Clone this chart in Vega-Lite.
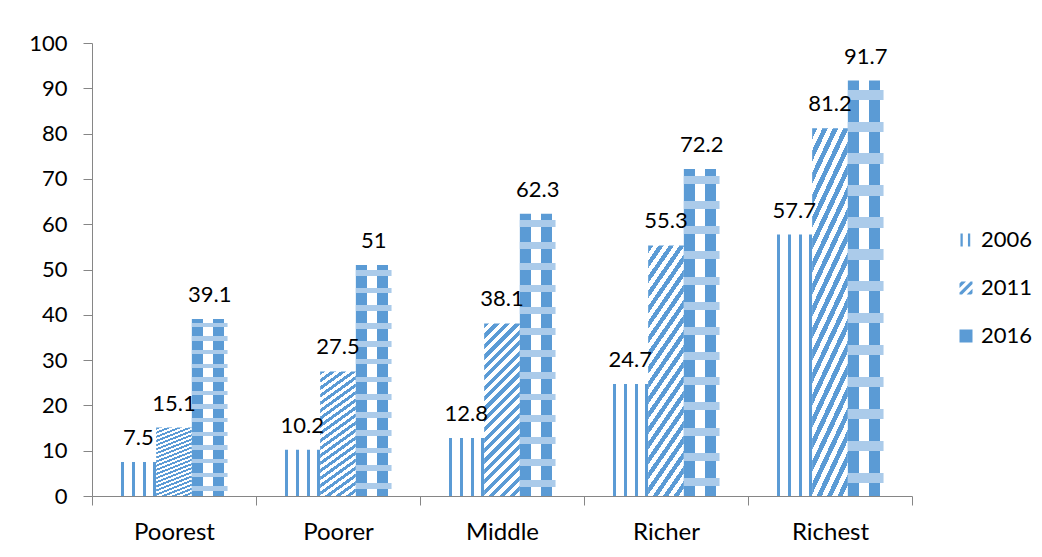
{
  "$schema": "https://vega.github.io/schema/vega-lite/v6.json",
  "width": 820,
  "height": 453,
  "autosize": "none",
  "padding": {"left": 92, "top": 43, "right": 130, "bottom": 61},
  "background": "white",
  "config": {"view": {"stroke": null}, "font": "Lato"},
  "data": {"values": [
    {"g": "Poorest", "year": "2006", "v": 7.5},
    {"g": "Poorest", "year": "2011", "v": 15.1},
    {"g": "Poorest", "year": "2016", "v": 39.1},
    {"g": "Poorer", "year": "2006", "v": 10.2},
    {"g": "Poorer", "year": "2011", "v": 27.5},
    {"g": "Poorer", "year": "2016", "v": 51},
    {"g": "Middle", "year": "2006", "v": 12.8},
    {"g": "Middle", "year": "2011", "v": 38.1},
    {"g": "Middle", "year": "2016", "v": 62.3},
    {"g": "Richer", "year": "2006", "v": 24.7},
    {"g": "Richer", "year": "2011", "v": 55.3},
    {"g": "Richer", "year": "2016", "v": 72.2},
    {"g": "Richest", "year": "2006", "v": 57.7},
    {"g": "Richest", "year": "2011", "v": 81.2},
    {"g": "Richest", "year": "2016", "v": 91.7}
  ]},
  "encoding": {
    "x": {"field": "g", "type": "nominal", "sort": ["Poorest", "Poorer", "Middle", "Richer", "Richest"],
      "scale": {"paddingInner": 0, "paddingOuter": 0},
      "axis": {"title": null, "tickBand": "extent", "labelAngle": 0, "tickSize": 9, "labelPadding": 15, "labelFontSize": 24, "labelFont": "Lato", "labelColor": "#000", "domainColor": "#868686", "tickColor": "#868686"}},
    "xOffset": {"field": "year", "type": "nominal", "scale": {"paddingInner": 0, "paddingOuter": 0.797}},
    "y": {"field": "v", "type": "quantitative", "scale": {"domain": [0, 100], "nice": false},
      "axis": {"title": null, "grid": false, "values": [0, 10, 20, 30, 40, 50, 60, 70, 80, 90, 100], "tickSize": 9, "labelPadding": 16, "labelFontSize": 22, "labelFont": "Lato", "labelColor": "#000", "domainColor": "#868686", "tickColor": "#868686"}}
  },
  "layer": [
    {
      "mark": {"type": "point", "filled": true, "opacity": 0},
      "encoding": {
        "color": {"field": "year", "type": "nominal",
          "scale": {"domain": ["2006", "2011", "2016"], "range": ["#5b9bd5", "#5b9bd5", "#5b9bd5"]},
          "legend": {"orient": "none", "legendX": 863, "legendY": 186, "title": null, "symbolSize": 169, "symbolOpacity": 1, "symbolStrokeWidth": 0, "labelFontSize": 22, "labelFont": "Lato", "labelColor": "#000", "labelOffset": 4, "rowPadding": 26}},
        "shape": {"field": "year", "type": "nominal",
          "scale": {"domain": ["2006", "2011", "2016"], "range": [
            "M-0.85,-1H-0.5V1H-0.85Z M0.3,-1H0.65V1H0.3Z",
            "M-1,-0.7L-0.7,-1L0,-1L-1,0Z M-1,0.7L0.7,-1L1,-1L1,-0.6L-0.6,1L-1,1Z M1,0.1L1,0.8L0.8,1L0.1,1Z",
            "M-1,-1H1V1H-1Z"]},
          "legend": {"orient": "none", "legendX": 863, "legendY": 186, "title": null, "symbolSize": 169, "symbolOpacity": 1, "symbolStrokeWidth": 0, "labelFontSize": 22, "labelFont": "Lato", "labelColor": "#000", "labelOffset": 4, "rowPadding": 26}}
      }
    },
    {
      "transform": [{"filter": "datum.year === '2006'"}],
      "mark": {"type": "bar", "color": {"gradient": "linear", "x1": 0, "y1": 0, "x2": 1, "y2": 0, "stops": [
        {"offset": 0, "color": "#fff"}, {"offset": 0.028, "color": "#fff"}, {"offset": 0.028, "color": "#5b9bd5"}, {"offset": 0.112, "color": "#5b9bd5"},
        {"offset": 0.112, "color": "#fff"}, {"offset": 0.336, "color": "#fff"}, {"offset": 0.336, "color": "#5b9bd5"}, {"offset": 0.42, "color": "#5b9bd5"},
        {"offset": 0.42, "color": "#fff"}, {"offset": 0.644, "color": "#fff"}, {"offset": 0.644, "color": "#5b9bd5"}, {"offset": 0.728, "color": "#5b9bd5"},
        {"offset": 0.728, "color": "#fff"}, {"offset": 0.924, "color": "#fff"}, {"offset": 0.924, "color": "#5b9bd5"}, {"offset": 1, "color": "#5b9bd5"}]}}
    },
    {
      "transform": [{"filter": "datum.year === '2011'"}],
      "mark": {"type": "bar", "color": {"gradient": "linear", "x1": 0, "y1": 0, "x2": 0.2393, "y2": 1.1573, "stops": [
        {"offset": 0, "color": "#5b9bd5"}, {"offset": 0.025, "color": "#5b9bd5"}, {"offset": 0.025, "color": "#fff"}, {"offset": 0.05, "color": "#fff"},
        {"offset": 0.05, "color": "#5b9bd5"}, {"offset": 0.075, "color": "#5b9bd5"}, {"offset": 0.075, "color": "#fff"}, {"offset": 0.1, "color": "#fff"},
        {"offset": 0.1, "color": "#5b9bd5"}, {"offset": 0.125, "color": "#5b9bd5"}, {"offset": 0.125, "color": "#fff"}, {"offset": 0.15, "color": "#fff"},
        {"offset": 0.15, "color": "#5b9bd5"}, {"offset": 0.175, "color": "#5b9bd5"}, {"offset": 0.175, "color": "#fff"}, {"offset": 0.2, "color": "#fff"},
        {"offset": 0.2, "color": "#5b9bd5"}, {"offset": 0.225, "color": "#5b9bd5"}, {"offset": 0.225, "color": "#fff"}, {"offset": 0.25, "color": "#fff"},
        {"offset": 0.25, "color": "#5b9bd5"}, {"offset": 0.275, "color": "#5b9bd5"}, {"offset": 0.275, "color": "#fff"}, {"offset": 0.3, "color": "#fff"},
        {"offset": 0.3, "color": "#5b9bd5"}, {"offset": 0.325, "color": "#5b9bd5"}, {"offset": 0.325, "color": "#fff"}, {"offset": 0.35, "color": "#fff"},
        {"offset": 0.35, "color": "#5b9bd5"}, {"offset": 0.375, "color": "#5b9bd5"}, {"offset": 0.375, "color": "#fff"}, {"offset": 0.4, "color": "#fff"},
        {"offset": 0.4, "color": "#5b9bd5"}, {"offset": 0.425, "color": "#5b9bd5"}, {"offset": 0.425, "color": "#fff"}, {"offset": 0.45, "color": "#fff"},
        {"offset": 0.45, "color": "#5b9bd5"}, {"offset": 0.475, "color": "#5b9bd5"}, {"offset": 0.475, "color": "#fff"}, {"offset": 0.5, "color": "#fff"},
        {"offset": 0.5, "color": "#5b9bd5"}, {"offset": 0.525, "color": "#5b9bd5"}, {"offset": 0.525, "color": "#fff"}, {"offset": 0.55, "color": "#fff"},
        {"offset": 0.55, "color": "#5b9bd5"}, {"offset": 0.575, "color": "#5b9bd5"}, {"offset": 0.575, "color": "#fff"}, {"offset": 0.6, "color": "#fff"},
        {"offset": 0.6, "color": "#5b9bd5"}, {"offset": 0.625, "color": "#5b9bd5"}, {"offset": 0.625, "color": "#fff"}, {"offset": 0.65, "color": "#fff"},
        {"offset": 0.65, "color": "#5b9bd5"}, {"offset": 0.675, "color": "#5b9bd5"}, {"offset": 0.675, "color": "#fff"}, {"offset": 0.7, "color": "#fff"},
        {"offset": 0.7, "color": "#5b9bd5"}, {"offset": 0.725, "color": "#5b9bd5"}, {"offset": 0.725, "color": "#fff"}, {"offset": 0.75, "color": "#fff"},
        {"offset": 0.75, "color": "#5b9bd5"}, {"offset": 0.775, "color": "#5b9bd5"}, {"offset": 0.775, "color": "#fff"}, {"offset": 0.8, "color": "#fff"},
        {"offset": 0.8, "color": "#5b9bd5"}, {"offset": 0.825, "color": "#5b9bd5"}, {"offset": 0.825, "color": "#fff"}, {"offset": 0.85, "color": "#fff"},
        {"offset": 0.85, "color": "#5b9bd5"}, {"offset": 0.875, "color": "#5b9bd5"}, {"offset": 0.875, "color": "#fff"}, {"offset": 0.9, "color": "#fff"},
        {"offset": 0.9, "color": "#5b9bd5"}, {"offset": 0.925, "color": "#5b9bd5"}, {"offset": 0.925, "color": "#fff"}, {"offset": 0.95, "color": "#fff"},
        {"offset": 0.95, "color": "#5b9bd5"}, {"offset": 0.975, "color": "#5b9bd5"}, {"offset": 0.975, "color": "#fff"}, {"offset": 1, "color": "#fff"}]}}
    },
    {
      "transform": [{"filter": "datum.year === '2016'"}],
      "mark": {"type": "bar", "color": {"gradient": "linear", "x1": 0, "y1": 0, "x2": 1, "y2": 0, "stops": [
        {"offset": 0, "color": "#5b9bd5"}, {"offset": 0.3, "color": "#5b9bd5"}, {"offset": 0.3, "color": "#fff"}, {"offset": 0.58, "color": "#fff"},
        {"offset": 0.58, "color": "#5b9bd5"}, {"offset": 0.9, "color": "#5b9bd5"}, {"offset": 0.9, "color": "#fff"}, {"offset": 1, "color": "#fff"}]}}
    },
    {
      "transform": [{"filter": "datum.year === '2016'"}],
      "mark": {"type": "bar", "color": {"gradient": "linear", "x1": 0, "y1": 0, "x2": 0, "y2": 1, "stops": [
        {"offset": 0, "color": "rgba(171,203,234,0)"}, {"offset": 0.0215, "color": "rgba(171,203,234,0)"}, {"offset": 0.0215, "color": "#abcbea"}, {"offset": 0.0462, "color": "#abcbea"},
        {"offset": 0.0462, "color": "rgba(171,203,234,0)"}, {"offset": 0.0985, "color": "rgba(171,203,234,0)"}, {"offset": 0.0985, "color": "#abcbea"}, {"offset": 0.1231, "color": "#abcbea"},
        {"offset": 0.1231, "color": "rgba(171,203,234,0)"}, {"offset": 0.1754, "color": "rgba(171,203,234,0)"}, {"offset": 0.1754, "color": "#abcbea"}, {"offset": 0.2, "color": "#abcbea"},
        {"offset": 0.2, "color": "rgba(171,203,234,0)"}, {"offset": 0.2523, "color": "rgba(171,203,234,0)"}, {"offset": 0.2523, "color": "#abcbea"}, {"offset": 0.2769, "color": "#abcbea"},
        {"offset": 0.2769, "color": "rgba(171,203,234,0)"}, {"offset": 0.3292, "color": "rgba(171,203,234,0)"}, {"offset": 0.3292, "color": "#abcbea"}, {"offset": 0.3538, "color": "#abcbea"},
        {"offset": 0.3538, "color": "rgba(171,203,234,0)"}, {"offset": 0.4062, "color": "rgba(171,203,234,0)"}, {"offset": 0.4062, "color": "#abcbea"}, {"offset": 0.4308, "color": "#abcbea"},
        {"offset": 0.4308, "color": "rgba(171,203,234,0)"}, {"offset": 0.4831, "color": "rgba(171,203,234,0)"}, {"offset": 0.4831, "color": "#abcbea"}, {"offset": 0.5077, "color": "#abcbea"},
        {"offset": 0.5077, "color": "rgba(171,203,234,0)"}, {"offset": 0.56, "color": "rgba(171,203,234,0)"}, {"offset": 0.56, "color": "#abcbea"}, {"offset": 0.5846, "color": "#abcbea"},
        {"offset": 0.5846, "color": "rgba(171,203,234,0)"}, {"offset": 0.6369, "color": "rgba(171,203,234,0)"}, {"offset": 0.6369, "color": "#abcbea"}, {"offset": 0.6615, "color": "#abcbea"},
        {"offset": 0.6615, "color": "rgba(171,203,234,0)"}, {"offset": 0.7138, "color": "rgba(171,203,234,0)"}, {"offset": 0.7138, "color": "#abcbea"}, {"offset": 0.7385, "color": "#abcbea"},
        {"offset": 0.7385, "color": "rgba(171,203,234,0)"}, {"offset": 0.7908, "color": "rgba(171,203,234,0)"}, {"offset": 0.7908, "color": "#abcbea"}, {"offset": 0.8154, "color": "#abcbea"},
        {"offset": 0.8154, "color": "rgba(171,203,234,0)"}, {"offset": 0.8677, "color": "rgba(171,203,234,0)"}, {"offset": 0.8677, "color": "#abcbea"}, {"offset": 0.8923, "color": "#abcbea"},
        {"offset": 0.8923, "color": "rgba(171,203,234,0)"}, {"offset": 0.9446, "color": "rgba(171,203,234,0)"}, {"offset": 0.9446, "color": "#abcbea"}, {"offset": 0.9692, "color": "#abcbea"},
        {"offset": 0.9692, "color": "rgba(171,203,234,0)"}, {"offset": 1, "color": "rgba(171,203,234,0)"}]}}
    },
    {
      "mark": {"type": "text", "dy": -17, "baseline": "alphabetic", "fontSize": 22, "font": "Lato", "color": "#000"},
      "encoding": {"text": {"field": "v", "type": "quantitative"}}
    }
  ]
}
